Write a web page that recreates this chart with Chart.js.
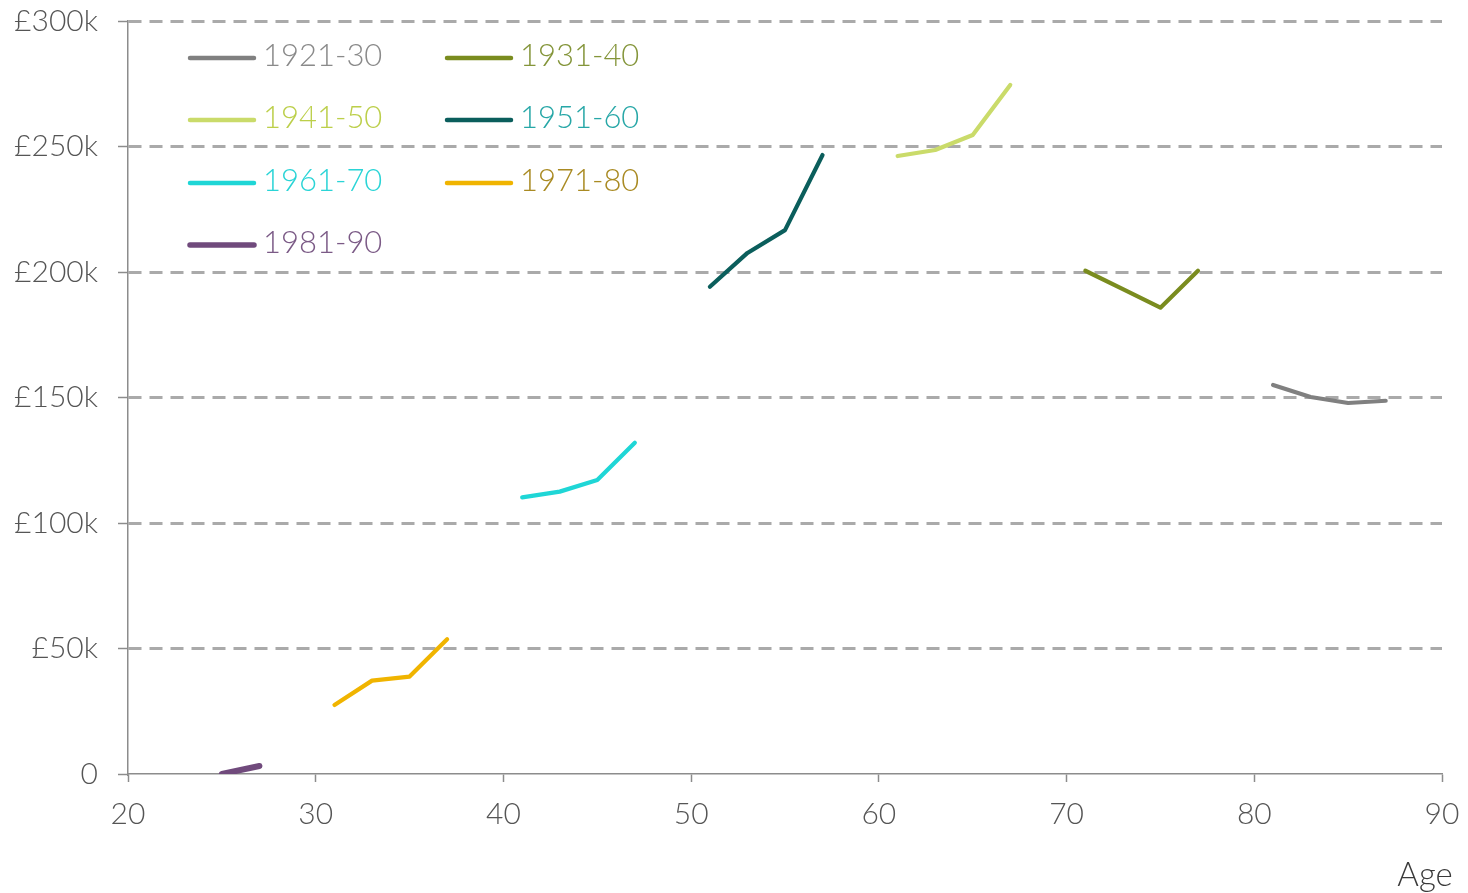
<!DOCTYPE html>
<html>
<head>
<meta charset="utf-8">
<title>Wealth by age and birth cohort</title>
<script src="https://cdn.jsdelivr.net/npm/chart.js@4/dist/chart.umd.min.js"></script>
<style>
  html, body { margin: 0; padding: 0; background: #ffffff; }
  #wrap { width: 1468px; height: 893px; position: relative; }
</style>
</head>
<body>
<div id="wrap"><canvas id="chart" width="1468" height="893"></canvas></div>
<script>
// Birth cohorts and their median wealth (£) at each age
const cohorts = ['1921-30', '1931-40', '1941-50', '1951-60', '1961-70', '1971-80', '1981-90'];

const ages1921 = [81, 83, 85, 87];
const wealth1921 = [155000, 150200, 147800, 148700];

const ages1931 = [71, 73, 75, 77];
const wealth1931 = [200500, 193200, 185800, 200500];

const ages1941 = [61, 63, 65, 67];
const wealth1941 = [246200, 248600, 254600, 274500];

const ages1951 = [51, 53, 55, 57];
const wealth1951 = [194100, 207600, 216700, 246600];

const ages1961 = [41, 43, 45, 47];
const wealth1961 = [110200, 112500, 117100, 132000];

const ages1971 = [31, 33, 35, 37];
const wealth1971 = [27500, 37200, 38800, 53700];

const ages1981 = [25, 27];
const wealth1981 = [0, 3200];

const yTicks = [0, 50000, 100000, 150000, 200000, 250000, 300000];
const xTicks = [20, 30, 40, 50, 60, 70, 80, 90];

const lineColors = {
  '1921-30': '#808080',
  '1931-40': '#7a8c1f',
  '1941-50': '#cadb6a',
  '1951-60': '#0b5e5c',
  '1961-70': '#1fd6d6',
  '1971-80': '#f0b400',
  '1981-90': '#704a7c'
};
const textColors = {
  '1921-30': '#8a8a8a',
  '1931-40': '#84953a',
  '1941-50': '#bccf4a',
  '1951-60': '#27a7a7',
  '1961-70': '#2ad4d6',
  '1971-80': '#a98a22',
  '1981-90': '#7b5a86'
};

const seriesAges = [ages1921, ages1931, ages1941, ages1951, ages1961, ages1971, ages1981];
const seriesWealth = [wealth1921, wealth1931, wealth1941, wealth1951, wealth1961, wealth1971, wealth1981];

const FONT = "Lato, 'Open Sans', sans-serif";

const datasets = cohorts.map((name, i) => ({
  label: name,
  data: seriesAges[i].map((a, j) => ({ x: a, y: seriesWealth[i][j] })),
  borderColor: lineColors[name],
  backgroundColor: lineColors[name],
  borderWidth: name === '1981-90' ? 6 : 4.2,
  borderCapStyle: 'round',
  borderJoinStyle: 'round',
  pointRadius: 0,
  pointHoverRadius: 0,
  tension: 0,
  fill: false
}));

// Two-column legend inside the plot area, plus the "Age" axis caption
const legendPlugin = {
  id: 'cohortLegend',
  afterDraw(chart) {
    const ctx = chart.ctx;
    const columns = [
      ['1921-30', '1941-50', '1961-70', '1981-90'],
      ['1931-40', '1951-60', '1971-80']
    ];
    const colX = [190, 447];
    const rowY = [58, 120, 183, 245];
    ctx.save();
    ctx.font = "300 31px " + FONT;
    ctx.textBaseline = 'middle';
    ctx.textAlign = 'left';
    columns.forEach((col, c) => {
      col.forEach((name, r) => {
        const x = colX[c];
        const y = rowY[r];
        ctx.strokeStyle = lineColors[name];
        ctx.lineWidth = name === '1981-90' ? 5.5 : 4.5;
        ctx.lineCap = 'round';
        ctx.beginPath();
        ctx.moveTo(x, y);
        ctx.lineTo(x + 64, y);
        ctx.stroke();
        ctx.fillStyle = textColors[name];
        ctx.fillText(name, x + 73, y - 2);
      });
    });
    ctx.fillStyle = '#3a3a3a';
    ctx.textAlign = 'center';
    ctx.font = "300 33px " + FONT;
    ctx.fillText('Age', 1425, 875);
    ctx.restore();
  }
};

new Chart(document.getElementById('chart'), {
  type: 'line',
  data: { datasets },
  plugins: [legendPlugin],
  options: {
    responsive: false,
    animation: false,
    events: [],
    layout: { padding: { top: 21, right: 26, left: 0, bottom: 0 } },
    plugins: {
      legend: { display: false },
      tooltip: { enabled: false },
      title: { display: false }
    },
    scales: {
      x: {
        type: 'linear',
        min: 20,
        max: 90,
        afterBuildTicks(scale) {
          scale.ticks = xTicks.map(v => ({ value: v }));
        },
        afterFit(scale) {
          scale.height = 119;
          scale.paddingLeft = 0;
          scale.paddingRight = 0;
        },
        grid: {
          drawOnChartArea: false,
          drawTicks: true,
          tickLength: 8,
          tickColor: '#8c8c8c',
          tickWidth: 1.5
        },
        border: { display: true, color: '#8c8c8c', width: 1.5 },
        ticks: {
          color: '#555555',
          font: { family: FONT, size: 30, weight: 300 },
          padding: 14,
          maxRotation: 0
        }
      },
      y: {
        type: 'linear',
        min: 0,
        max: 300000,
        afterBuildTicks(scale) {
          scale.ticks = yTicks.map(v => ({ value: v }));
        },
        afterFit(scale) {
          scale.width = 128;
          scale.paddingTop = 0;
          scale.paddingBottom = 0;
        },
        grid: {
          drawOnChartArea: true,
          drawTicks: true,
          tickLength: 10,
          tickColor: '#8c8c8c',
          tickWidth: 1.5,
          tickBorderDash: [],
          lineWidth: 3,
          color: (ctx) => (ctx.tick && ctx.tick.value === 0) ? 'rgba(0,0,0,0)' : '#aaaaaa'
        },
        border: { display: true, color: '#8c8c8c', width: 1.5, dash: [13, 8] },
        ticks: {
          color: '#555555',
          font: { family: FONT, size: 30, weight: 300 },
          padding: 20,
          callback: (v) => v === 0 ? '0' : '£' + (v / 1000) + 'k'
        }
      }
    }
  }
});
</script>
</body>
</html>
